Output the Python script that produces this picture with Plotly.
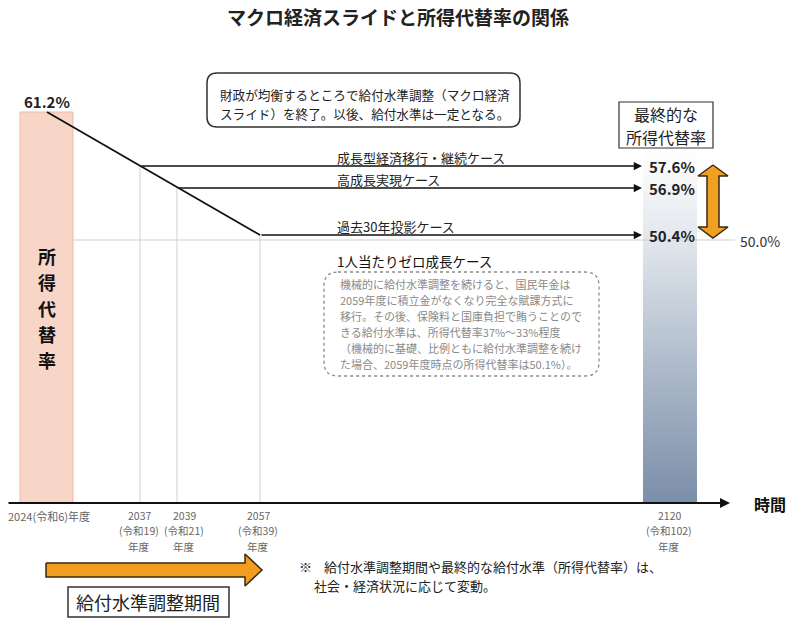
import plotly.graph_objects as go

# ---------------- data ----------------
years = [2024, 2037, 2039, 2057, 2120]
reiwa = [6, 19, 21, 39, 102]
start_rate = 61.2
cases = ["成長型経済移行・継続ケース", "高成長実現ケース", "過去30年投影ケース"]
case_end_years = [2037, 2039, 2057]
case_final_rates = [57.6, 56.9, 50.4]
zero_growth_case = "1人当たりゼロ成長ケース"
floor_rate = 50.0
title = "マクロ経済スライドと所得代替率の関係"
bar_label = "所得代替率"
top_note = ["財政が均衡するところで給付水準調整（マクロ経済",
            "スライド）を終了。以後、給付水準は一定となる。"]
final_box = ["最終的な", "所得代替率"]
zero_note = ["機械的に給付水準調整を続けると、国民年金は",
             "2059年度に積立金がなくなり完全な賦課方式に",
             "移行。その後、保険料と国庫負担で賄うことので",
             "きる給付水準は、所得代替率37%～33%程度",
             "（機械的に基礎、比例ともに給付水準調整を続け",
             "た場合、2059年度時点の所得代替率は50.1%）。"]
period_label = "給付水準調整期間"
footnote = ["給付水準調整期間や最終的な給付水準（所得代替率）は、",
            "社会・経済状況に応じて変動。"]

# ------------- schematic scales (layout positions) -------------
X_POS = {2024: 47, 2037: 140, 2039: 177, 2057: 260, 2120: 670}
LABEL_DX = {2024: 2, 2037: -1, 2039: 7, 2057: -2, 2120: -1}
Y_POS = {61.2: 112, 57.6: 166, 56.9: 188, 50.4: 235, 50.0: 240}
BASE_Y = 503
FONT = "Noto Sans CJK JP"

fig = go.Figure()

def poly(xs, ys, fill, line_color, lw, **kw):
    fig.add_trace(go.Scatter(x=xs + [xs[0]], y=ys + [ys[0]], mode="lines", fill="toself",
                             fillcolor=fill, line=dict(color=line_color, width=lw),
                             hoverinfo="skip", showlegend=False, **kw))

def line(xs, ys, color, width, dash=None):
    fig.add_trace(go.Scatter(x=xs, y=ys, mode="lines",
                             line=dict(color=color, width=width, dash=dash),
                             hoverinfo="skip", showlegend=False))

def text(x, y, s, size=13, color="#222", xa="left", ya="middle", bold=False, align="left"):
    fig.add_annotation(x=x, y=y, xref="x", yref="y", text=("<b>%s</b>" % s) if bold else s,
                       showarrow=False, xanchor=xa, yanchor=ya, align=align,
                       font=dict(family=FONT, size=size, color=color))

def lines(x, y0, items, pitch, **kw):
    for k, s in enumerate(items):
        text(x, y0 + pitch * k, s, **kw)

def arrow(x0, x1, y, width, color="#111", size=1.0):
    fig.add_annotation(x=x1, y=y, ax=x0, ay=y, xref="x", yref="y", axref="x", ayref="y",
                       text="", showarrow=True, arrowhead=2, arrowsize=size,
                       arrowwidth=width, arrowcolor=color, standoff=0)

def rrect_path(x0, y0, x1, y1, r):
    return (f"M {x0+r},{y0} L {x1-r},{y0} Q {x1},{y0} {x1},{y0+r} L {x1},{y1-r} "
            f"Q {x1},{y1} {x1-r},{y1} L {x0+r},{y1} Q {x0},{y1} {x0},{y1-r} "
            f"L {x0},{y0+r} Q {x0},{y0} {x0+r},{y0} Z")

# left bar (current replacement rate)
x0b = X_POS[years[0]]
poly([x0b - 27, x0b + 26, x0b + 26, x0b - 27], [Y_POS[start_rate]] * 2 + [BASE_Y] * 2,
     "#f8d6c7", "#ebbba6", 1)

# right bar (final replacement rate) with vertical gradient
xe = X_POS[years[-1]]
fig.add_trace(go.Scatter(x=[xe - 27, xe + 27, xe + 27, xe - 27, xe - 27],
                         y=[150, 150, BASE_Y, BASE_Y, 150], mode="lines", fill="toself",
                         line=dict(width=0, color="rgba(0,0,0,0)"),
                         fillgradient=dict(type="vertical", start=150, stop=BASE_Y,
                                           colorscale=[[0, "rgba(255,255,255,1)"],
                                                       [0.25, "#e2e7ed"],
                                                       [0.65, "#a9b6c7"],
                                                       [1, "#7b8ea9"]]),
                         hoverinfo="skip", showlegend=False))

# gray guide lines
for yr, r in zip(case_end_years, case_final_rates):
    line([X_POS[yr]] * 2, [Y_POS[r], BASE_Y], "#cfcfcf", 1)
line([x0b + 26, xe + 65], [Y_POS[floor_rate]] * 2, "#cfcfcf", 1)

# slide line from current rate to the last end year
line([X_POS[years[0]], X_POS[case_end_years[-1]]], [Y_POS[start_rate], Y_POS[case_final_rates[-1]]],
     "#111", 1.8)

# case arrows
for name, yr, r in zip(cases, case_end_years, case_final_rates):
    arrow(X_POS[yr], xe - 28, Y_POS[r], 1.5, size=1.1)
    text(335, Y_POS[r] - 9, name, size=13, color="#222")
    text(xe - 23, Y_POS[r], f"{r:.1f}%", size=15, color="#222", bold=True)

text(x0b, 101, f"{start_rate:.1f}%", size=15, color="#222", xa="center", bold=True)
text(738, Y_POS[floor_rate] + 1, f"{floor_rate:.1f}%", size=14, color="#333")

# orange double arrow (range of final rates)
cx = xe + 43
top = Y_POS[max(case_final_rates)] - 1
bot = Y_POS[floor_rate] - 2
poly([cx, cx + 15, cx + 6, cx + 6, cx + 15, cx, cx - 15, cx - 6, cx - 6, cx - 15],
     [top, top + 11, top + 11, bot - 11, bot - 11, bot, bot - 11, bot - 11, top + 11, top + 11],
     "#f0a023", "#3b2a10", 1.5)

# time axis
arrow(7, 730, BASE_Y, 2, size=1.0)
text(752, BASE_Y + 1, "時間", size=16, color="#111", bold=True)

# tick labels
for yr, rw in zip(years, reiwa):
    lx = X_POS[yr] + LABEL_DX[yr]
    if yr == years[0]:
        text(lx, 516, f"{yr}(令和{rw})年度", size=11, color="#666", xa="center")
    else:
        lines(lx, 515, [str(yr), f"(令和{rw})", "年度"], 15.5,
              size=10.5, color="#666", xa="center")

# vertical label in the left bar
lines(x0b, 256, list(bar_label), 26, size=18, color="#111", xa="center", bold=True)

# title
text(398, 16, title, size=19, color="#222", xa="center", bold=True)

# top note box
fig.add_shape(type="path", path=rrect_path(207, 73, 520, 127, 10), xref="x", yref="y",
              line=dict(color="#333", width=1.5), fillcolor="white")
lines(218, 94.5, top_note, 18.6, size=12.6, color="#222")

# final-rate box
fig.add_shape(type="rect", x0=619, y0=102, x1=713, y1=148, xref="x", yref="y",
              line=dict(color="#333", width=1.2), fillcolor="white")
lines(666, 113.5, final_box, 23.2, size=16, color="#222", xa="center")

# zero growth case
text(335, 261, zero_growth_case, size=13.5, color="#111")
fig.add_shape(type="path", path=rrect_path(324, 272, 599, 376, 14), xref="x", yref="y",
              line=dict(color="#8a8a8a", width=1.3, dash="dot"), fillcolor="rgba(0,0,0,0)")
lines(338, 284, zero_note, 16, size=11, color="#8a8a8a")

# adjustment period arrow and box
xa0, xa1 = X_POS[years[0]] - 1, X_POS[case_end_years[-1]] + 2
poly([xa0, xa1 - 17, xa1 - 17, xa1, xa1 - 17, xa1 - 17, xa0],
     [563, 563, 554, 570, 586, 577, 577], "#f29d1f", "#3b2a10", 1.5)
fig.add_shape(type="rect", x0=68, y0=587, x1=229, y1=617, xref="x", yref="y",
              line=dict(color="#333", width=1.5), fillcolor="white")
text(148, 602, period_label, size=18, color="#222", xa="center")

# footnote
text(297, 566, "※", size=13, color="#222")
text(322, 566, footnote[0], size=13, color="#222")
text(312, 585, footnote[1], size=13, color="#222")

fig.update_layout(
    width=800, height=621, margin=dict(l=0, r=0, t=0, b=0),
    paper_bgcolor="white", plot_bgcolor="white", showlegend=False,
    xaxis=dict(range=[0, 800], visible=False, fixedrange=True),
    yaxis=dict(range=[621, 0], visible=False, fixedrange=True),
)
fig.write_html("out.html")
